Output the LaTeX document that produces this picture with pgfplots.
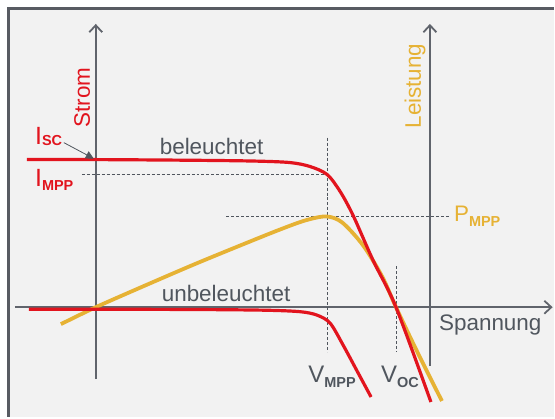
\documentclass[border=0pt]{standalone}
\usepackage{pgfplots}
\pgfplotsset{compat=1.18}
\usetikzlibrary{arrows.meta}
\usepackage{fontspec}
\setmainfont{Liberation Sans}
\definecolor{cred}{RGB}{226,20,30}
\definecolor{cyel}{RGB}{230,178,52}
\definecolor{ctext}{RGB}{80,86,94}
\definecolor{caxis}{RGB}{96,100,108}
\definecolor{cbg}{RGB}{242,242,242}
\definecolor{cframe}{RGB}{88,91,98}
\newcommand{\sub}[2]{\raisebox{#1}{\fontsize{14.5}{14.5}\selectfont\bfseries #2}}
\begin{document}
\begin{tikzpicture}
\begin{axis}[scale only axis, width=555pt, height=418pt,
  xmin=-96, xmax=459, ymin=-110, ymax=308, hide axis, clip=false]
% background and frame
\fill[white] (rel axis cs:0,0) rectangle (rel axis cs:1,1);
\fill[cbg] (axis cs:-86.5,-110) rectangle (axis cs:459,298.5);
\draw[cframe, line width=2.8pt] (axis cs:-87.5,-110) -- (axis cs:-87.5,299.2) -- (axis cs:459,299.2);
% axes
\draw[caxis, line width=1.8pt, -{Straight Barb[length=7pt,width=13pt,line width=1.8pt]}] (axis cs:-81,0) -- (axis cs:458,0);
\draw[caxis, line width=1.8pt, -{Straight Barb[length=7pt,width=13pt,line width=1.8pt]}] (axis cs:0,-72) -- (axis cs:0,284);
\draw[caxis, line width=1.8pt, -{Straight Barb[length=7pt,width=13pt,line width=1.8pt]}] (axis cs:335,-59) -- (axis cs:335,284);
% dashed helper lines
\draw[ctext, line width=0.8pt, dash pattern=on 3pt off 2pt] (axis cs:-14,133) -- (axis cs:232,133);
\draw[ctext, line width=0.8pt, dash pattern=on 3pt off 2pt] (axis cs:232,170) -- (axis cs:232,-45);
\draw[ctext, line width=0.8pt, dash pattern=on 3pt off 2pt] (axis cs:131,91) -- (axis cs:354,91);
\draw[ctext, line width=0.8pt, dash pattern=on 3pt off 2pt] (axis cs:301,41) -- (axis cs:301,-45);
% power curve
\addplot[cyel, line width=3.8pt, smooth, tension=0.5] coordinates {
 (-35,-17) (0,0) (50,22) (100,43.5) (150,64) (185,78) (210,87) (231,91) (247,85) (268,62) (287,31) (301,0) (321,-42) (347,-94)};
% illuminated curve
\addplot[cred, line width=3.2pt, smooth, tension=0.5] coordinates {
 (-69,148) (0,148) (100,147.3) (160,146.5) (195,145) (215,141) (232,133) (245,116) (258,92) (278,47) (301,0) (336,-95)};
% dark curve
\addplot[cred, line width=3.2pt, smooth, tension=0.5] coordinates {
 (-67,-2) (0,-2) (100,-2.3) (170,-3) (205,-4.5) (222,-8) (235,-16) (248,-38) (262,-64) (276,-90)};
% Isc arrow
\draw[ctext, line width=0.8pt, -{Triangle[length=8pt,width=8pt]}] (axis cs:-32,165) -- (axis cs:-2,149);
% texts
\node[anchor=base west, inner sep=0, text=ctext, font=\fontsize{22.5}{26}\selectfont] at (axis cs:64,153) {beleuchtet};
\node[anchor=base west, inner sep=0, text=ctext, font=\fontsize{22.5}{26}\selectfont] at (axis cs:66,6) {unbeleuchtet};
\node[anchor=base west, inner sep=0, text=ctext, font=\fontsize{22.5}{26}\selectfont] at (axis cs:344,-23) {Spannung};
\node[anchor=base west, inner sep=0, rotate=90, text=cred, font=\fontsize{22.5}{26}\selectfont] at (axis cs:-6,180) {Strom};
\node[anchor=base west, inner sep=0, rotate=90, text=cyel, font=\fontsize{22.5}{26}\selectfont] at (axis cs:326,179) {Leistung};
\node[anchor=base west, inner sep=0, text=cred, font=\fontsize{25}{28}\selectfont] at (axis cs:-61,163) {I\sub{-1pt}{SC}};
\node[anchor=base west, inner sep=0, text=cred, font=\fontsize{25}{28}\selectfont] at (axis cs:-61,121) {I\sub{-4pt}{MPP}};
\node[anchor=base west, inner sep=0, text=ctext, font=\fontsize{24}{28}\selectfont] at (axis cs:213,-75) {V\sub{-5pt}{MPP}};
\node[anchor=base west, inner sep=0, text=ctext, font=\fontsize{24}{28}\selectfont] at (axis cs:286,-75) {V\sub{-5pt}{OC}};
\node[anchor=base west, inner sep=0, text=cyel, font=\fontsize{22.5}{26}\selectfont] at (axis cs:359,86) {P\sub{-5pt}{MPP}};
\end{axis}
\end{tikzpicture}
\end{document}
